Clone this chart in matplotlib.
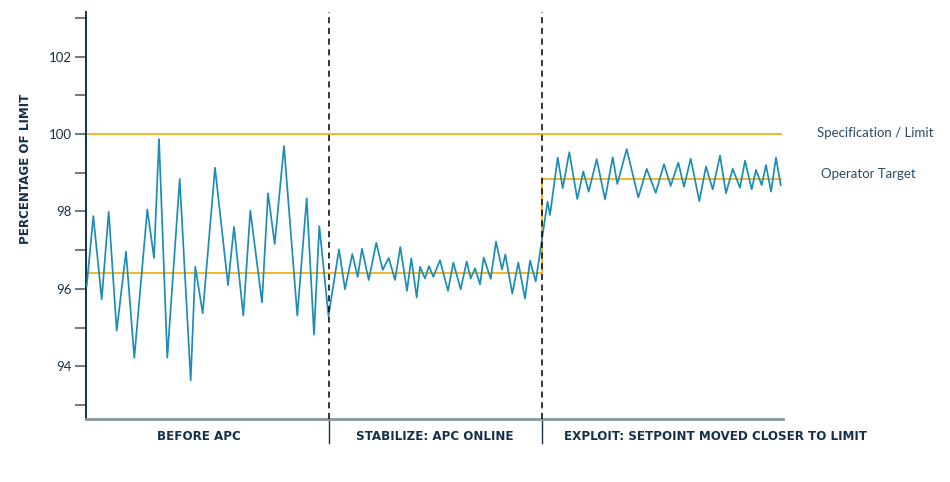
import matplotlib
matplotlib.use('Agg')
import matplotlib.pyplot as plt

# time (arbitrary units) and percentage of limit
t = [0.7, 7.3, 15.7, 22.7, 30.7, 40, 48.3, 61.3, 68, 73, 81.3, 93.7, 104.7, 109.3,
     116.7, 129, 142, 148, 157.3, 164.3, 176, 182, 188.7, 198, 211.3, 220.7, 228,
     233.3, 242.5,
     253, 259, 266.3, 271.7, 276, 282.7, 290.3, 296.7, 302.7, 309, 314.3, 321,
     325.3, 330.7, 334, 339, 343, 347.3, 354, 362, 367.3, 374.7, 380.7, 384.7,
     389, 394, 397.7, 404.7, 410, 416, 419.3, 426.3, 432.3, 439, 444, 449.7,
     461.5, 464, 471.7, 476.7, 483.3, 491.3, 497.3, 502.7, 510.7, 519, 526.7,
     531.3, 540.7, 552.3, 560.7, 569.7, 578, 584.7, 592.3, 598, 604.7, 613.3,
     620, 626.7, 634, 640, 646.7, 654, 659, 665.7, 670, 675.7, 680, 685, 690, 694.7]
pct = [96.07, 97.88, 95.73, 97.99, 94.92, 96.96, 94.22, 98.05, 96.80, 99.87, 94.22,
       98.84, 93.64, 96.57, 95.37, 99.13, 96.10, 97.60, 95.31, 98.02, 95.65, 98.47,
       97.16, 99.69, 95.31, 98.34, 94.82, 97.62, 95.30,
       97.02, 95.99, 96.90, 96.31, 97.04, 96.23, 97.19, 96.49, 96.80, 96.23, 97.08,
       95.95, 96.79, 95.78, 96.57, 96.27, 96.59, 96.31, 96.74, 95.95, 96.68, 95.99,
       96.71, 96.27, 96.53, 96.12, 96.81, 96.26, 97.22, 96.50, 96.89, 95.88, 96.68,
       95.75, 96.73, 96.19,
       98.25, 97.91, 99.39, 98.60, 99.53, 98.32, 99.03, 98.51, 99.35, 98.31, 99.40,
       98.71, 99.61, 98.36, 99.10, 98.48, 99.22, 98.66, 99.26, 98.64, 99.36, 98.27,
       99.16, 98.57, 99.44, 98.47, 99.10, 98.61, 99.31, 98.57, 99.07, 98.68, 99.20,
       98.51, 99.39, 98.68]

spec_limit = 100
target_before = 96.4
target_after = 98.85
phase_edges = [0, 243, 456, 697]
phase_labels = ['BEFORE APC', 'STABILIZE: APC ONLINE', 'EXPLOIT: SETPOINT MOVED CLOSER TO LIMIT']
t_end = 695

navy = '#15304a'
teal = '#1b8db6'
amber = '#f2aa00'
body = ['Lato', 'DejaVu Sans']

fig = plt.figure(figsize=(9.5, 4.82), dpi=100)
ax = fig.add_axes([86/950, 63/482, 697/950, 407/482])

ax.plot([0, t_end], [spec_limit, spec_limit], color=amber, lw=1.2, zorder=2)
ax.plot([0, phase_edges[2], phase_edges[2], t_end],
        [target_before, target_before, target_after, target_after],
        color=amber, lw=1.2, zorder=2)
ax.plot(t, pct, color=teal, lw=1.25, zorder=3)

for e in phase_edges[1:3]:
    ax.axvline(e, color='black', lw=1.1, ls=(0, (4, 3)), zorder=4)
    ax.plot([e, e], [0, -0.058], color=navy, lw=1.0,
            transform=ax.get_xaxis_transform(), clip_on=False)

label_x = [113, 349, 630]
for x, lab in zip(label_x, phase_labels):
    ax.text(x, -0.042, lab, transform=ax.get_xaxis_transform(), ha='center',
            va='center', fontsize=9.5, fontweight='bold', color=navy,
            family='DejaVu Sans', fontstretch='condensed')

ax.set_xlim(0, 697)
ax.set_ylim(92.64, 103.15)
ax.set_xticks([])
ax.set_yticks([94, 96, 98, 100, 102])
ax.set_yticks([93, 95, 97, 99, 101, 103], minor=True)
ax.tick_params(axis='y', which='both', length=8, width=1.3, color='#5f6f7c',
               labelcolor=navy, labelsize=9.5, pad=2)
for lbl in ax.get_yticklabels():
    lbl.set_family(body)

ax.spines['top'].set_visible(False)
ax.spines['right'].set_visible(False)
ax.spines['left'].set_color(navy)
ax.spines['left'].set_linewidth(1.4)
ax.spines['bottom'].set_color('#8896a0')
ax.spines['bottom'].set_linewidth(2)

ax.set_ylabel('PERCENTAGE OF LIMIT', fontsize=9.5, fontweight='bold', color=navy,
              family='DejaVu Sans', fontstretch='condensed')
ax.yaxis.set_label_coords(-0.078, 0.615)

fig.text(875/950, 1 - 133/482, 'Specification / Limit', ha='center', va='center',
         fontsize=9.5, color='#2b4a66', family=body)
fig.text(868/950, 1 - 174/482, 'Operator Target', ha='center', va='center',
         fontsize=9.5, color='#2b4a66', family=body)

fig.savefig('out.png', dpi=100)
